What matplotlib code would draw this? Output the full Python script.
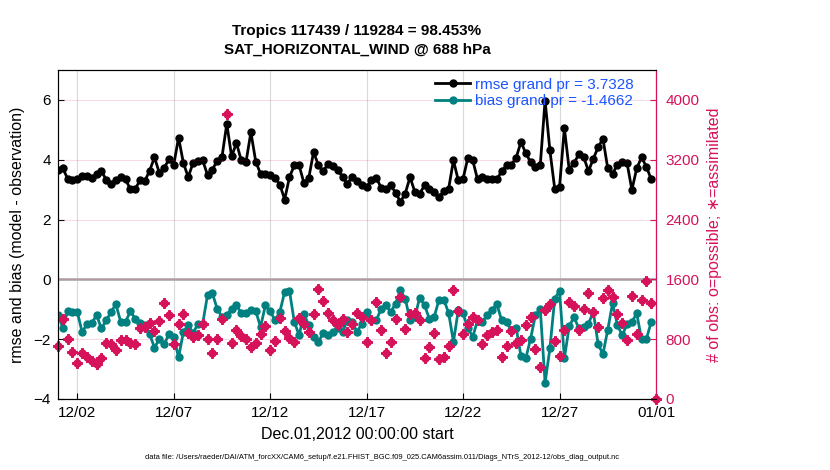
import numpy as np
import pandas as pd
import matplotlib
matplotlib.use("Agg")
import matplotlib.pyplot as plt
import matplotlib.dates as mdates

plt.rcParams['font.family'] = ['Liberation Sans', 'DejaVu Sans']

# 6-hourly bins, Dec 1 00Z .. Dec 31 18Z (rmse/bias), count bins run to Jan 1 00Z
times = pd.date_range('2012-12-01 00:00', periods=124, freq='6h')
count_times = pd.date_range('2012-12-01 00:00', periods=125, freq='6h')

rmse = [3.64, 3.72, 3.36, 3.33, 3.37, 3.46, 3.44, 3.40, 3.52, 3.62,
        3.33, 3.19, 3.31, 3.41, 3.34, 3.02, 3.02, 3.31, 3.29, 3.63,
        4.08, 3.57, 3.72, 4.01, 3.83, 4.74, 3.89, 3.42, 3.89, 3.96,
        3.98, 3.49, 3.67, 3.96, 4.09, 5.20, 4.11, 4.56, 3.98, 3.94,
        4.92, 3.94, 3.53, 3.53, 3.48, 3.40, 3.17, 2.67, 3.42, 3.81,
        3.81, 3.22, 3.39, 4.26, 3.81, 3.61, 3.87, 3.79, 3.67, 3.42,
        3.20, 3.42, 3.28, 3.17, 3.10, 3.31, 3.39, 3.07, 3.03, 3.14,
        2.90, 2.59, 2.87, 3.42, 2.92, 2.87, 3.14, 3.03, 2.92, 2.76,
        2.94, 3.03, 3.98, 3.31, 3.37, 4.07, 3.98, 3.34, 3.42, 3.37,
        3.34, 3.34, 3.62, 3.81, 3.83, 4.07, 4.59, 4.22, 3.92, 3.76,
        3.81, 5.98, 4.31, 3.03, 3.09, 5.06, 3.67, 3.89, 4.18, 4.09,
        3.62, 4.03, 4.42, 4.70, 3.71, 3.53, 3.84, 3.92, 3.89, 2.99,
        3.71, 4.08, 3.77, 3.35]

bias = [-1.20, -1.61, -1.06, -1.09, -1.09, -1.76, -1.50, -1.46, -1.20, -1.64,
        -1.37, -1.09, -0.83, -1.42, -1.42, -1.07, -1.31, -1.46, -1.53, -1.83,
        -2.28, -2.00, -2.17, -1.84, -1.92, -2.61, -1.76, -1.53, -1.79, -1.50,
        -1.48, -0.53, -0.46, -0.98, -1.26, -1.20, -0.98, -0.87, -1.12, -1.12,
        -1.03, -1.06, -1.59, -0.87, -1.06, -1.37, -1.09, -0.42, -0.39, -1.42,
        -1.87, -1.17, -1.53, -1.92, -2.09, -1.79, -1.87, -1.76, -1.61, -1.76,
        -1.37, -1.42, -1.76, -1.48, -1.09, -1.37, -1.37, -0.98, -0.87, -1.09,
        -0.81, -0.37, -0.64, -1.37, -1.26, -0.61, -0.87, -1.31, -1.26, -0.68,
        -0.68, -1.12, -2.09, -1.03, -1.14, -1.64, -1.92, -1.37, -1.42, -1.20,
        -1.01, -0.83, -1.37, -1.44, -1.68, -1.61, -2.57, -2.64, -1.98, -1.20,
        -0.98, -3.46, -2.31, -0.64, -0.39, -2.64, -1.57, -1.26, -1.64, -1.59,
        -1.48, -1.09, -2.17, -2.50, -1.68, -0.79, -1.53, -1.87, -1.50, -1.42,
        -1.14, -2.00, -2.00, -1.42]

nobs = [707, 1075, 809, 631, 484, 618, 556, 511, 467, 542,
        751, 733, 662, 787, 795, 751, 733, 955, 964, 1018,
        911, 1044, 1284, 1120, 742, 1000, 1133, 884, 831, 853,
        1009, 809, 618, 809, 1075, 3817, 751, 920, 840, 809,
        698, 751, 875, 973, 653, 778, 1089, 911, 822, 764,
        1089, 1000, 898, 1142, 1475, 1311, 1151, 1053, 987, 1075,
        898, 1009, 1151, 1098, 764, 1053, 1298, 929, 609, 764,
        1075, 1364, 942, 1142, 1151, 1053, 542, 689, 884, 529,
        556, 707, 1462, 1178, 875, 1009, 1098, 1053, 733, 853,
        898, 920, 556, 707, 911, 751, 795, 987, 1098, 675,
        431, 1187, 1275, 778, 573, 929, 1298, 1240, 929, 1209,
        1418, 1164, 964, 1355, 1462, 1364, 1142, 1018, 787, 1373,
        875, 1330, 1580, 1280, 0]

xtick_dates = ['2012-12-02', '2012-12-07', '2012-12-12', '2012-12-17',
               '2012-12-22', '2012-12-27', '2013-01-01']

crimson = '#d6135a'
teal = '#008080'
blue = '#1a55ff'

fig = plt.figure(figsize=(8.3, 4.7), dpi=100)
ax = fig.add_axes([58/830, 71/470, 598/830, 329/470])
ax2 = ax.twinx()

ax.axhline(0, color='#b0b0b0', lw=2, zorder=1)
ax.plot(times, rmse, '-o', color='black', lw=2, ms=5, label='rmse grand pr = 3.7328', zorder=3)
ax.plot(times, bias, '-o', color=teal, lw=2, ms=5, label='bias grand pr = -1.4662', zorder=3)

# o = possible, * = assimilated (they coincide here)
ax2.plot(count_times, nobs, 'o', color=crimson, ms=5, clip_on=False)
ax2.plot(count_times, nobs, linestyle='none', marker=(4, 2, 0), color=crimson,
         ms=7.5, mew=2, clip_on=False)

ax.set_xlim(pd.Timestamp('2012-12-01'), pd.Timestamp('2013-01-01'))
ax.set_ylim(-4, 7)
ax.set_yticks([-4, -2, 0, 2, 4, 6])
ax2.set_ylim(0, 4400)
ax2.set_yticks([0, 800, 1600, 2400, 3200, 4000])

ax.set_xticks(pd.to_datetime(xtick_dates))
ax.xaxis.set_major_formatter(mdates.DateFormatter('%m/%d'))

ax.grid(axis='x', color='#d9d9d9', lw=0.8)
ax2.grid(axis='y', color=crimson, alpha=0.15, lw=0.8)
ax.set_axisbelow(True)
ax2.set_axisbelow(True)

ax.tick_params(direction='in', labelsize=11, length=4, top=False, pad=5)
ax2.tick_params(direction='in', labelsize=11, length=4, colors=crimson, pad=7)
ax2.spines['right'].set_color(crimson)
for s in ['left', 'right', 'top', 'bottom']:
    ax.spines[s].set_linewidth(0.8)
ax2.spines['right'].set_linewidth(0.8)

ax.set_ylabel('rmse and bias (model - observation)', fontsize=11.5, labelpad=6)
ax2.set_ylabel('# of obs: o=possible; \u2217=assimilated', fontsize=11.5, color=crimson, labelpad=5)
ax.set_xlabel('Dec.01,2012 00:00:00 start', fontsize=11.5, labelpad=5)

ax.set_title('Tropics 117439 / 119284 = 98.453%\nSAT_HORIZONTAL_WIND @ 688 hPa',
             fontsize=11, fontweight='bold', pad=12, linespacing=1.35)

leg = ax2.legend(*ax.get_legend_handles_labels(), loc='upper right', frameon=False,
                 fontsize=11, handlelength=2.3, borderaxespad=0.1,
                 handletextpad=0.3, labelspacing=0.15, bbox_to_anchor=(0.975, 1.0))
for txt in leg.get_texts():
    txt.set_color(blue)

fig.text(0.46, 0.026,
         'data file: /Users/raeder/DAI/ATM_forcXX/CAM6_setup/f.e21.FHIST_BGC.f09_025.CAM6assim.011/Diags_NTrS_2012-12/obs_diag_output.nc',
         fontsize=5.4, ha='center', va='center')

fig.savefig('out.png', dpi=100)
